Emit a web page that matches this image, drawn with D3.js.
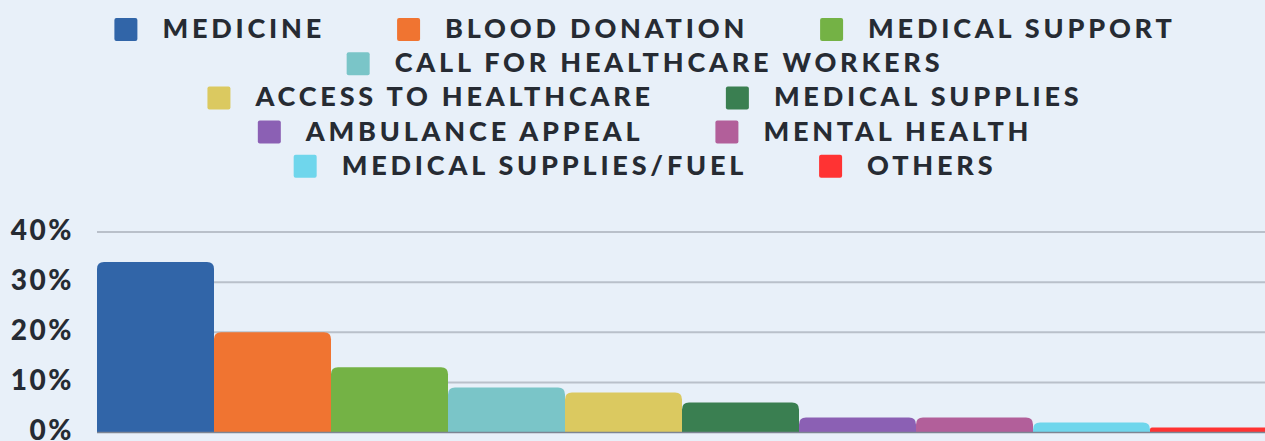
<!DOCTYPE html>
<html lang="en">
<head>
<meta charset="utf-8">
<title>Health needs</title>
<script src="https://cdn.jsdelivr.net/npm/d3@7"></script>
<style>
  html, body { margin: 0; padding: 0; background: #e8f0f9; overflow: hidden; }
  .lbl { font-family: Lato, sans-serif; font-weight: 900; fill: #262b33; letter-spacing: 3.8px; }
</style>
</head>
<body>
<div id="chart"></div>
<script>
var categories = ["MEDICINE", "BLOOD DONATION", "MEDICAL SUPPORT", "CALL FOR HEALTHCARE WORKERS",
  "ACCESS TO HEALTHCARE", "MEDICAL SUPPLIES", "AMBULANCE APPEAL", "MENTAL HEALTH",
  "MEDICAL SUPPLIES/FUEL", "OTHERS"];
var values = [34, 20, 13, 9, 8, 6, 3, 3, 2, 1];
var colors = ["#3165a8", "#f07431", "#74b245", "#7ac5c8", "#dbc960", "#3a7f51",
  "#8b60b4", "#b25f9a", "#6fd6ec", "#ff3333"];
var yTicks = [0, 10, 20, 30, 40];

var W = 1265, H = 441;
var svg = d3.select("#chart").append("svg").attr("width", W).attr("height", H);

// ---- legend (flowing, centered rows)
var sq = 23, sqGap = 25, itemGap = 72, maxRow = 1090, cx = 645;
var legend = svg.append("g");
var items = categories.map(function(c, i) {
  var g = legend.append("g");
  g.append("rect").attr("width", sq).attr("height", sq).attr("rx", 2).attr("fill", colors[i]);
  var t = g.append("text").attr("class", "lbl").attr("x", sq + sqGap).attr("font-size", 27).text(c);
  var w = sq + sqGap + t.node().getComputedTextLength();
  return { g: g, w: w };
});
var rows = [[]], rw = 0;
items.forEach(function(it) {
  var add = rows[rows.length - 1].length ? itemGap + it.w : it.w;
  if (rw + add > maxRow && rows[rows.length - 1].length) { rows.push([it]); rw = it.w; }
  else { rows[rows.length - 1].push(it); rw += add; }
});
rows.forEach(function(row, r) {
  var total = d3.sum(row, function(d) { return d.w; }) + itemGap * (row.length - 1);
  var x = cx - total / 2, yc = 29.5 + r * 34.2;
  row.forEach(function(it) {
    it.g.attr("transform", "translate(" + x + "," + (yc - sq / 2) + ")");
    it.g.select("text").attr("y", sq / 2 + 8.5);
    x += it.w + itemGap;
  });
});

// ---- bars
var x = d3.scaleBand().domain(categories).range([97, 97 + 117 * categories.length]).padding(0);
var y = d3.scaleLinear().domain([0, 40]).range([432.5, 232]);

var grid = svg.append("g");
grid.selectAll("line").data(yTicks.slice(1)).enter().append("line")
  .attr("x1", 97).attr("x2", W)
  .attr("y1", function(d) { return y(d); }).attr("y2", function(d) { return y(d); })
  .attr("stroke", "#b9c0ca").attr("stroke-width", 2);

function topRounded(x0, y0, w, h, r) {
  r = Math.min(r, h, w / 2);
  return "M" + x0 + "," + (y0 + h) + "V" + (y0 + r) +
    "Q" + x0 + "," + y0 + " " + (x0 + r) + "," + y0 +
    "H" + (x0 + w - r) + "Q" + (x0 + w) + "," + y0 + " " + (x0 + w) + "," + (y0 + r) +
    "V" + (y0 + h) + "Z";
}
svg.append("g").selectAll("path").data(values).enter().append("path")
  .attr("fill", function(d, i) { return colors[i]; })
  .attr("d", function(d, i) {
    var x0 = x(categories[i]), y0 = y(d);
    return topRounded(x0, y0, x.bandwidth(), y(0) - y0, d > 1 ? 7 : 2);
  });

svg.append("line").attr("x1", 97).attr("x2", W).attr("y1", y(0)).attr("y2", y(0))
  .attr("stroke", "#7d8593").attr("stroke-width", 1.5);

// ---- y axis labels
var yAxis = d3.axisLeft(y).tickValues(yTicks).tickSize(0).tickPadding(0)
  .tickFormat(function(d) { return d + "%"; });
var ya = svg.append("g").attr("transform", "translate(74,0)").call(yAxis);
ya.select(".domain").remove();
ya.selectAll("text").attr("class", "lbl").attr("font-size", 28).attr("dy", "0.25em")
  .style("letter-spacing", "2.5px");
</script>
</body>
</html>
